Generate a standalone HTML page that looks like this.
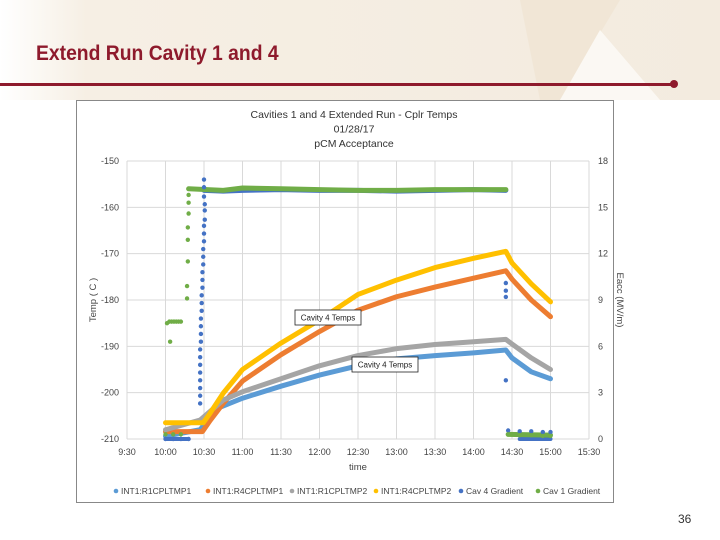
<!DOCTYPE html>
<html><head><meta charset="utf-8">
<style>
body{margin:0;width:720px;height:540px;overflow:hidden;background:#fff;font-family:"Liberation Sans",sans-serif;position:relative}
#bg{position:absolute;left:0;top:0;width:720px;height:100px;background:linear-gradient(90deg,#fff 0%,#f6efe4 12%,#f3ebdf 100%)}
#ttl{position:absolute;left:36px;top:42px;font-size:21px;font-weight:bold;color:#8e1a2c;transform:scaleX(0.92);transform-origin:left}
#rule{position:absolute;left:0;top:83px;width:674px;height:3px;background:#8e1a2c}
#dot{position:absolute;left:670px;top:80px;width:8px;height:8px;border-radius:50%;background:#8e1a2c}
#pg{position:absolute;left:678px;top:512px;font-size:12px;color:#333}
svg{position:absolute;left:0;top:0}
text{font-family:"Liberation Sans",sans-serif}
</style></head><body>
<div id="bg"></div>
<svg width="720" height="100"><polygon points="520,0 620,0 560,100 540,100" fill="#efe4d2" opacity="0.7"/><polygon points="560,100 600,30 660,100" fill="#fbf8f3"/></svg>
<div id="ttl">Extend Run Cavity 1 and 4</div>
<div id="rule"></div>
<div id="dot"></div>
<div id="pg">36</div>
<svg id="chart" width="720" height="540"></svg>
<script>
const xTicks=["9:30","10:00","10:30","11:00","11:30","12:00","12:30","13:00","13:30","14:00","14:30","15:00","15:30"];
const yTicks=[-150,-160,-170,-180,-190,-200,-210];
const y2Ticks=[18,15,12,9,6,3,0];
const tR1P1=[10.0,10.45,10.67,11.0,11.5,12.0,12.5,13.0,13.5,14.0,14.42,14.5,14.75,15.0];
const vR1P1=[-209.4,-208,-203.4,-201.2,-198.6,-196.2,-194.2,-192.7,-192,-191.4,-190.8,-192.5,-195.5,-197];
const tR4P1=[10.0,10.48,10.58,10.75,11.0,11.5,12.0,12.5,13.0,13.5,14.0,14.42,14.5,14.75,15.0];
const vR4P1=[-208.4,-208.4,-206,-202.3,-197.5,-191.8,-186.8,-182.2,-179.3,-177.2,-175.3,-173.7,-175.5,-180,-183.6];
const tR1P2=[10.0,10.45,10.75,11.0,11.5,12.0,12.5,13.0,13.5,14.0,14.42,14.5,14.75,15.0];
const vR1P2=[-208,-205.9,-201.6,-199.8,-197,-194.2,-192,-190.5,-189.6,-189,-188.5,-189.5,-192.5,-195];
const tR4P2=[10.0,10.49,10.58,10.75,11.0,11.5,12.0,12.5,13.0,13.5,14.0,14.42,14.5,14.75,15.0];
const vR4P2=[-206.5,-206.5,-204.4,-200.1,-195,-189.3,-184.3,-178.8,-175.7,-173,-171,-169.5,-172,-176.5,-180.4];
const tCav4=[10.5,10.75,11.0,11.5,12.0,12.5,13.0,13.5,14.0,14.42];
const vCav4=[16.1,16.05,16.1,16.15,16.1,16.1,16.05,16.1,16.15,16.1];
const tCav1=[10.3,10.75,11.0,11.5,12.0,12.5,13.0,13.5,14.0,14.42];
const vCav1=[16.2,16.1,16.25,16.2,16.15,16.1,16.1,16.15,16.15,16.15];
const tCav4Spike=[10.5,10.5,10.5,10.51,10.51,10.51,10.5,10.5,10.5,10.49,10.49,10.49,10.48,10.48,10.48,10.47,10.47,10.47,10.46,10.46,10.46,10.46,10.45,10.45,10.45,10.45,10.45,10.45,10.45,10.45];
const vCav4Spike=[16.8,16.3,15.7,15.2,14.8,14.2,13.8,13.3,12.8,12.3,11.8,11.3,10.8,10.3,9.8,9.3,8.8,8.3,7.8,7.3,6.8,6.3,5.8,5.3,4.8,4.3,3.8,3.3,2.8,2.3];
const tCav4Low=[10.0,10.1,10.2,10.3,14.45,14.6,14.75,14.9,15.0,14.42,14.42,14.42,14.42];
const vCav4Low=[0,0,0,0,0.55,0.5,0.5,0.45,0.45,10.1,9.6,9.2,3.8];
const tCav1Early=[10.02,10.05,10.08,10.11,10.14,10.17,10.2,10.06,10.28,10.28,10.29,10.29,10.29,10.3,10.3,10.3];
const vCav1Early=[7.5,7.6,7.6,7.6,7.6,7.6,7.6,6.3,9.1,9.9,11.5,12.9,13.7,14.6,15.3,15.8];
const tCav1Low=[10.0,10.1,10.2,14.45,14.6,14.75,14.9,15.0];
const vCav1Low=[0.3,0.3,0.3,0.3,0.25,0.25,0.2,0.2];

const svg=document.getElementById('chart');
const NS='http://www.w3.org/2000/svg';
const X0=127,X1=589,YT=161,YB=439;
const xs=t=>X0+(t-9.5)/6*(X1-X0);
const ys=v=>YT+(-150-v)/60*(YB-YT);
const y2=v=>YB-v/18*(YB-YT);
function mk(tag,a,p){const e=document.createElementNS(NS,tag);for(const k in a)e.setAttribute(k,a[k]);(p||svg).appendChild(e);return e;}
const frame=mk('rect',{x:76.5,y:100.5,width:537,height:402,fill:'#fff',stroke:'#888'});


const tl=['Cavities 1 and 4 Extended Run - Cplr Temps','01/28/17','pCM Acceptance'];
tl.forEach((s,i)=>{const t=mk('text',{x:354,y:118+i*14.5,'text-anchor':'middle','font-size':10.5,fill:'#333'});t.textContent=s;

});
xTicks.forEach((s,i)=>{const x=xs(9.5+i*0.5);const g=mk('line',{x1:x,x2:x,y1:YT,y2:YB,stroke:'#d9d9d9'});


const t=mk('text',{x:x,y:455,'text-anchor':'middle','font-size':9,fill:'#444'});t.textContent=s;

});
yTicks.forEach((v,i)=>{const y=ys(v);const g=mk('line',{x1:X0,x2:X1,y1:y,y2:y,stroke:'#d9d9d9'});


const t=mk('text',{x:119,y:y+3,'text-anchor':'end','font-size':9,fill:'#444'});t.textContent=v;


const t2=mk('text',{x:598,y:y2(y2Ticks[i])+3,'font-size':9,fill:'#444'});t2.textContent=y2Ticks[i];

});
let a=mk('text',{x:358,y:470,'text-anchor':'middle','font-size':9.5,fill:'#444'});a.textContent='time';


a=mk('text',{x:96,y:300,'text-anchor':'middle','font-size':9.5,fill:'#444',transform:'rotate(-90 96 300)'});a.textContent='Temp ( C )';


a=mk('text',{x:617,y:300,'text-anchor':'middle','font-size':9.5,fill:'#444',transform:'rotate(90 617 300)'});a.textContent='Eacc (MV/m)';


function line(ts,vs,col,nm,sc,w){const p=mk('polyline',{points:ts.map((t,i)=>xs(t)+','+sc(vs[i])).join(' '),fill:'none',stroke:col,'stroke-width':w,'stroke-linejoin':'round','stroke-linecap':'round'});

}
function pts(ts,vs,col,nm){ts.forEach((t,i)=>{const c=mk('circle',{cx:xs(t),cy:y2(vs[i]),r:2.2,fill:col});

});}
line(tR1P1,vR1P1,'#5b9bd5','series-r1cpltmp1',ys,5);
line(tR4P1,vR4P1,'#ed7d31','series-r4cpltmp1',ys,5);
line(tR1P2,vR1P2,'#a5a5a5','series-r1cpltmp2',ys,5);
line(tR4P2,vR4P2,'#ffc000','series-r4cpltmp2',ys,5);
line(tCav4,vCav4,'#4472c4','series-cav4-gradient',y2,5);
line(tCav1,vCav1,'#70ad47','series-cav1-gradient',y2,5);
line([10.0,10.3],[0,0],'#4472c4','cav4-gradient-baseline',y2,4);
line([14.6,15.0],[0,0],'#4472c4','cav4-gradient-tail',y2,4);
line([14.45,15.0],[0.3,0.25],'#70ad47','cav1-gradient-tail',y2,5);
pts(tCav4Spike,vCav4Spike,'#4472c4','cav4-gradient-point');
pts(tCav4Low,vCav4Low,'#4472c4','cav4-gradient-point');
pts(tCav1Early,vCav1Early,'#70ad47','cav1-gradient-point');
pts(tCav1Low,vCav1Low,'#70ad47','cav1-gradient-point');
function box(x,y,nm){const r=mk('rect',{x:x,y:y,width:66,height:15,fill:'#fff',stroke:'#222','stroke-width':0.8});


const t=mk('text',{x:x+33,y:y+10.5,'text-anchor':'middle','font-size':8,fill:'#222'});t.textContent='Cavity 4 Temps';}
box(295,310,'annotation-cavity4-temps-upper');
box(352,357,'annotation-cavity4-temps-lower');
const leg=[['INT1:R1CPLTMP1','#5b9bd5',113],['INT1:R4CPLTMP1','#ed7d31',205],['INT1:R1CPLTMP2','#a5a5a5',289],['INT1:R4CPLTMP2','#ffc000',373],['Cav 4 Gradient','#4472c4',458],['Cav 1 Gradient','#70ad47',535]];
leg.forEach(l=>{const c=mk('circle',{cx:l[2]+3,cy:491,r:2.3,fill:l[1]});


const t=mk('text',{x:l[2]+8,y:494,'font-size':8.5,fill:'#444'});t.textContent=l[0];

});
</script>
</body></html>
